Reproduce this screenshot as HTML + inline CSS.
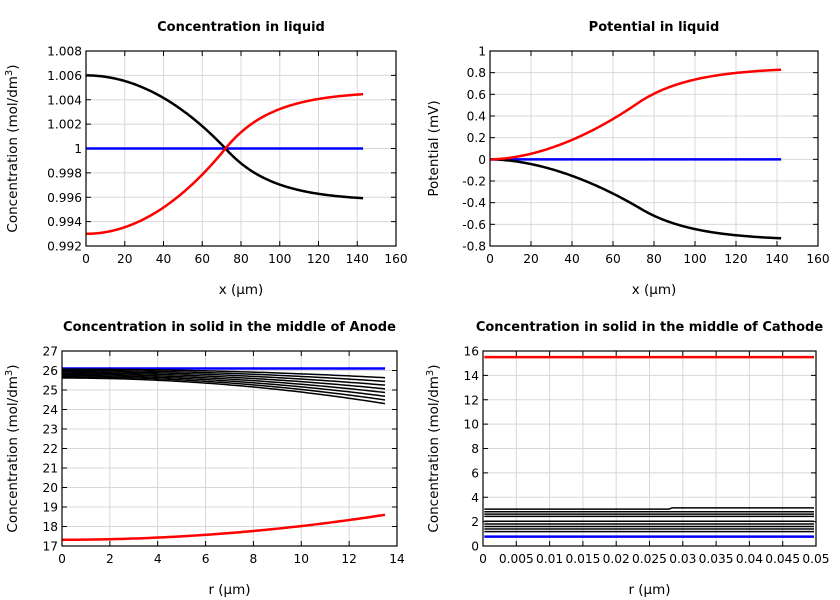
<!DOCTYPE html>
<html><head><meta charset="utf-8"><style>
body{margin:0;background:#fff}
svg{display:block;font-family:"DejaVu Sans","Liberation Sans",sans-serif}
</style></head><body>
<svg id="s" width="840" height="600" viewBox="0 0 840 600"></svg>
<script>
const s=document.getElementById('s');let h='';
function plot(o){
 const {x0,x1,y0,y1,xmin,xmax,ymin,ymax,xt,yt,xl,yl,title,series,fmtx,fmty}=o;
 const X=v=>x0+(v-xmin)/(xmax-xmin)*(x1-x0), Y=v=>y1-(v-ymin)/(ymax-ymin)*(y1-y0);
 xt.forEach(v=>{const p=X(v);h+=`<line x1="${p}" y1="${y0}" x2="${p}" y2="${y1}" stroke="#d8d8d8"/>`;
  h+=`<line x1="${p}" y1="${y1}" x2="${p}" y2="${y1-5}" stroke="#000"/><line x1="${p}" y1="${y0}" x2="${p}" y2="${y0+5}" stroke="#000"/>`;
  h+=`<text x="${p}" y="${y1+17}" font-size="12.2" text-anchor="middle">${fmtx?fmtx(v):v}</text>`;});
 yt.forEach(v=>{const p=Y(v);h+=`<line x1="${x0}" y1="${p}" x2="${x1}" y2="${p}" stroke="#d8d8d8"/>`;
  h+=`<line x1="${x0}" y1="${p}" x2="${x0+5}" y2="${p}" stroke="#000"/><line x1="${x1}" y1="${p}" x2="${x1-5}" y2="${p}" stroke="#000"/>`;
  h+=`<text x="${x0-4}" y="${p+4.5}" font-size="12.2" text-anchor="end">${fmty?fmty(v):v}</text>`;});
 series.forEach(sr=>{let d='';for(let i=0;i<=sr.n;i++){const x=sr.a+(sr.b-sr.a)*i/sr.n;d+=(i?'L':'M')+X(x).toFixed(2)+','+Y(sr.f(x)).toFixed(2);}
  h+=`<path d="${d}" fill="none" stroke="${sr.c}" stroke-width="${sr.w}"/>`;});
 h+=`<rect x="${x0}" y="${y0}" width="${x1-x0}" height="${y1-y0}" fill="none" stroke="#000" stroke-width="1.2"/>`;
 h+=`<text x="${(x0+x1)/2}" y="${y0-20}" font-size="13" font-weight="bold" text-anchor="middle">${title}</text>`;
 h+=`<text x="${(x0+x1)/2}" y="${y1+48}" font-size="13.5" text-anchor="middle">${xl}</text>`;
 h+=`<text transform="translate(${o.ylx},${(y0+y1)/2}) rotate(-90)" font-size="13.5" text-anchor="middle">${yl}</text>`;
}
const conc='Concentration (mol/dm<tspan dy="-5" font-size="10">3</tspan><tspan dy="5">)</tspan>';
const r=[0,20,40,60,80,100,120,140,160];
plot({x0:86,x1:396,y0:51,y1:246,xmin:0,xmax:160,ymin:0.992,ymax:1.008,xt:r,
 yt:[0.992,0.994,0.996,0.998,1,1.002,1.004,1.006,1.008],fmty:v=>v==1?'1':v.toFixed(3),
 xl:'x (µm)',yl:conc,ylx:17,title:'Concentration in liquid',series:[
 {a:0,b:143,n:200,c:'#00f',w:2.5,f:x=>1},
 {a:0,b:143,n:200,c:'#000',w:2.5,f:x=>x<72?1+0.006*(1-(x/72)**2):0.9957+0.0043*Math.exp(-(x-72)/24)},
 {a:0,b:143,n:200,c:'#f00',w:2.5,f:x=>x<72?1-0.007*(1-(x/72)**2):1.0047-0.0047*Math.exp(-(x-72)/24)}]});
plot({x0:490,x1:818,y0:51,y1:246,xmin:0,xmax:160,ymin:-0.8,ymax:1,xt:r,
 yt:[-0.8,-0.6,-0.4,-0.2,0,0.2,0.4,0.6,0.8,1],fmty:v=>{v=Math.round(v*10)/10;return v==0?'0':v==1?'1':String(v)},
 xl:'x (µm)',yl:'Potential (mV)',ylx:438,title:'Potential in liquid',series:[
 {a:0,b:142,n:200,c:'#00f',w:2.5,f:x=>0},
 {a:0,b:142,n:200,c:'#000',w:2.5,f:x=>x<73?-0.45*(x/73)**1.8:-0.75+0.3*Math.exp(-(x-73)/26)},
 {a:0,b:142,n:200,c:'#f00',w:2.5,f:x=>x<73?0.53*(x/73)**1.8:0.85-0.32*Math.exp(-(x-73)/26)}]});
const bl=[{c:'#00f',w:2.5,f:x=>26.1}];
for(let k=0;k<8;k++){const s0=26.07-k*0.065,e0=25.63-k*0.19;bl.push({c:'#000',w:1.5,f:x=>s0-(s0-e0)*(x/13.5)**2});}
bl.push({c:'#f00',w:2.5,f:x=>17.32+1.28*(x/13.5)**2});
plot({x0:62,x1:397,y0:351,y1:546,xmin:0,xmax:14,ymin:17,ymax:27,xt:[0,2,4,6,8,10,12,14],
 yt:[17,18,19,20,21,22,23,24,25,26,27],xl:'r (µm)',yl:conc,ylx:17,title:'Concentration in solid in the middle of Anode',
 series:bl.map(o=>({a:0,b:13.5,n:100,...o}))});
const br=[{c:'#f00',w:2.5,f:x=>15.5},{c:'#00f',w:2.5,f:x=>0.77}];
[3.03,2.81,2.62,2.43,2.03,1.81,1.6,1.4,1.18].forEach((v,i)=>br.push({c:'#000',w:1.5,f:i==0?(x=>x<0.028?v:v+0.1):(x=>v)}));
plot({x0:483,x1:816,y0:351,y1:546,xmin:0,xmax:0.05,ymin:0,ymax:16,
 xt:[0,0.005,0.01,0.015,0.02,0.025,0.03,0.035,0.04,0.045,0.05],fmtx:v=>v==0?'0':String(+v.toFixed(3)),
 yt:[0,2,4,6,8,10,12,14,16],xl:'r (µm)',yl:conc,ylx:438,title:'Concentration in solid in the middle of Cathode',
 series:br.map(o=>({a:0.0002,b:0.0497,n:100,...o}))});
s.innerHTML=h;
</script>
</body></html>
